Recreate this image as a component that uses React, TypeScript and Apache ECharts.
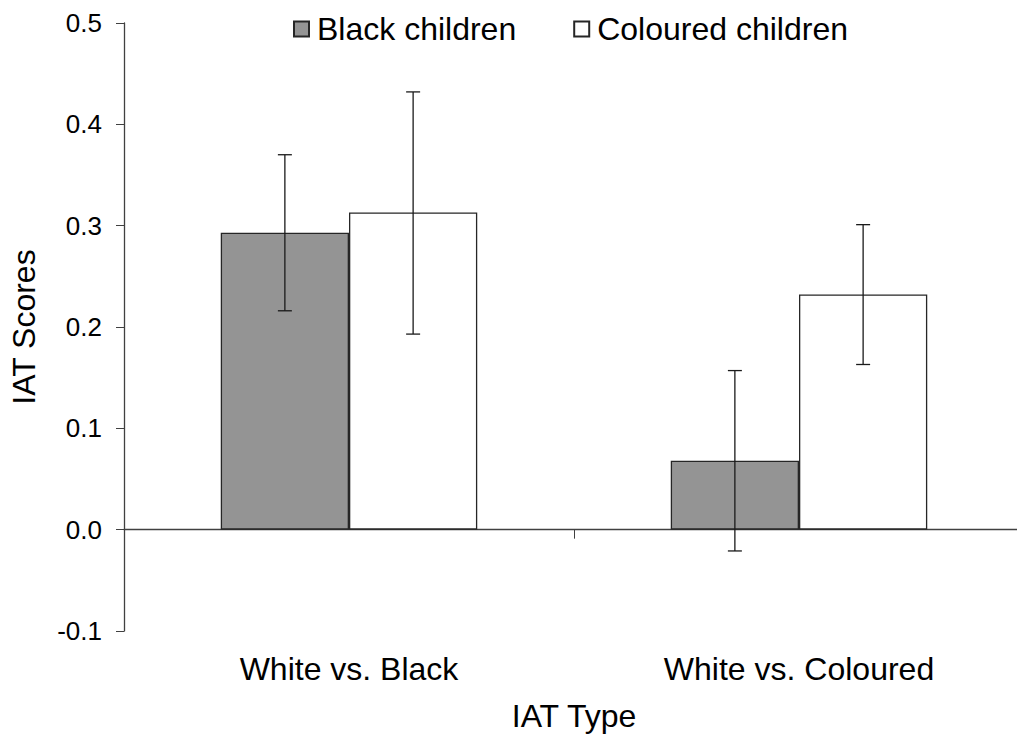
import React, { useEffect, useRef } from "react";
import * as echarts from "echarts";

const categories = ["White vs. Black", "White vs. Coloured"];
const seriesNames = ["Black children", "Coloured children"];
const blackMeans = [0.293, 0.068];
const blackLow = [0.216, -0.021];
const blackHigh = [0.37, 0.157];
const colouredMeans = [0.313, 0.232];
const colouredLow = [0.193, 0.163];
const colouredHigh = [0.432, 0.301];
const yTicks = { min: -0.1, max: 0.5, interval: 0.1 };

const FONT = "'Liberation Sans', Arial, sans-serif";
const AXIS_COLOR = "#404040";
const CATEGORY_GAP = 0.43;

function errorSeries(name: string, low: number[], high: number[], side: number) {
  return {
    type: "custom",
    name: name + " error",
    xAxisIndex: 0,
    yAxisIndex: 0,
    z: 10,
    silent: true,
    encode: { x: 0, y: [1, 2] },
    data: low.map((l, i) => [i, l, high[i]]),
    renderItem: (params: any, api: any) => {
      const idx = api.value(0);
      const lo = api.coord([idx, api.value(1)]);
      const hi = api.coord([idx, api.value(2)]);
      const band = api.size([1, 0])[0];
      const barW = (band * (1 - CATEGORY_GAP)) / 2;
      const x = lo[0] + side * (barW / 2);
      const cap = 7;
      const style = { stroke: "#1a1a1a", lineWidth: 1.3 };
      return {
        type: "group",
        children: [
          { type: "line", shape: { x1: x, y1: lo[1], x2: x, y2: hi[1] }, style },
          { type: "line", shape: { x1: x - cap, y1: hi[1], x2: x + cap, y2: hi[1] }, style },
          { type: "line", shape: { x1: x - cap, y1: lo[1], x2: x + cap, y2: lo[1] }, style },
        ],
      };
    },
  };
}

export default function App() {
  const ref = useRef<HTMLDivElement>(null);
  useEffect(() => {
    if (!ref.current) return;
    const chart = echarts.init(ref.current, undefined, { renderer: "svg" });
    chart.setOption({
      animation: false,
      backgroundColor: "#ffffff",
      textStyle: { fontFamily: FONT, color: "#000" },
      legend: {
        left: 288,
        top: 8,
        itemWidth: 15,
        itemHeight: 15,
        itemGap: 57,
        icon: "rect",
        data: seriesNames,
        textStyle: { fontFamily: FONT, fontSize: 32, color: "#000", padding: [0, 0, 0, 3] },
      },
      grid: {
        left: 124,
        top: 23,
        width: 900,
        height: 608,
        containLabel: false,
        outerBoundsMode: "none",
      },
      xAxis: [
        {
          type: "category",
          data: categories,
          axisLine: { onZero: true, lineStyle: { color: AXIS_COLOR, width: 1.3 } },
          axisTick: { show: true, length: 9, inside: false, lineStyle: { color: AXIS_COLOR } },
          axisLabel: { show: false },
          splitLine: { show: false },
        },
        {
          type: "category",
          data: categories,
          position: "bottom",
          axisLine: { show: false, onZero: false },
          axisTick: { show: false },
          axisLabel: { show: true, margin: 22, fontSize: 32, fontFamily: FONT, color: "#000" },
          name: "IAT Type",
          nameLocation: "middle",
          nameGap: 69,
          nameTextStyle: { fontSize: 32, fontFamily: FONT, color: "#000" },
        },
      ],
      yAxis: {
        type: "value",
        min: yTicks.min,
        max: yTicks.max,
        interval: yTicks.interval,
        name: "IAT Scores",
        nameLocation: "middle",
        nameGap: 84,
        nameTextStyle: { fontSize: 32, fontFamily: FONT, color: "#000" },
        axisLine: { show: true, lineStyle: { color: AXIS_COLOR, width: 1.3 } },
        axisTick: { show: true, length: 8, inside: false, lineStyle: { color: AXIS_COLOR } },
        axisLabel: {
          margin: 22,
          fontSize: 26,
          fontFamily: FONT,
          color: "#000",
          formatter: (v: number) => v.toFixed(1),
        },
        splitLine: { show: false },
      },
      series: [
        {
          type: "bar",
          name: seriesNames[0],
          data: blackMeans,
          barGap: "0%",
          barCategoryGap: CATEGORY_GAP * 100 + "%",
          itemStyle: { color: "#949494", borderColor: "#262626", borderWidth: 1.3 },
        },
        {
          type: "bar",
          name: seriesNames[1],
          data: colouredMeans,
          barGap: "0%",
          barCategoryGap: CATEGORY_GAP * 100 + "%",
          itemStyle: { color: "#ffffff", borderColor: "#262626", borderWidth: 1.3 },
        },
        errorSeries(seriesNames[0], blackLow, blackHigh, -1),
        errorSeries(seriesNames[1], colouredLow, colouredHigh, 1),
      ],
    });
    return () => chart.dispose();
  }, []);
  return (
    <div
      ref={ref}
      style={{ position: "fixed", left: 0, top: 0, width: 1017, height: 735, background: "#fff" }}
    />
  );
}
